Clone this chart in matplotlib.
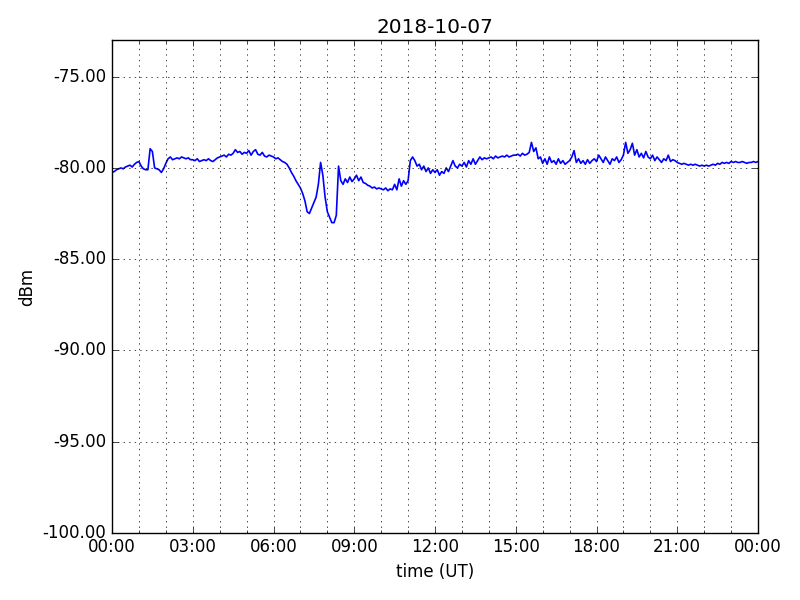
import datetime as dt
import matplotlib
matplotlib.use('Agg')
import matplotlib.pyplot as plt
import matplotlib.dates as mdates
from matplotlib.ticker import FormatStrFormatter

plt.style.use('classic')

# signal level read every 5 minutes, one row per hour
day = dt.datetime(2018, 10, 7)
levels = [
    -80.25, -80.2, -80.1, -80.05, -80.0, -80.05, -79.95, -79.9, -79.85, -79.95, -79.8, -79.7,
    -79.65, -79.9, -80.05, -80.1, -80.1, -78.95, -79.1, -80.0, -80.05, -80.1, -80.25, -80.05,
    -79.75, -79.5, -79.4, -79.55, -79.5, -79.45, -79.5, -79.4, -79.45, -79.5, -79.45, -79.55,
    -79.55, -79.6, -79.5, -79.65, -79.6, -79.55, -79.6, -79.5, -79.6, -79.65, -79.55, -79.45,
    -79.4, -79.35, -79.3, -79.4, -79.25, -79.3, -79.2, -79.0, -79.15, -79.1, -79.25, -79.15,
    -79.2, -79.05, -79.3, -79.1, -79.0, -79.25, -79.3, -79.15, -79.35, -79.4, -79.3, -79.35,
    -79.4, -79.5, -79.45, -79.55, -79.65, -79.7, -79.8, -80.0, -80.25, -80.45, -80.7, -80.9,
    -81.1, -81.4, -81.8, -82.4, -82.5, -82.2, -81.9, -81.6, -80.9, -79.7, -80.4, -81.6,
    -82.4, -82.7, -83.0, -83.0, -82.6, -79.9, -80.7, -80.9, -80.6, -80.8, -80.5, -80.75,
    -80.6, -80.4, -80.7, -80.5, -80.8, -80.85, -80.95, -81.0, -81.1, -81.05, -81.15, -81.1,
    -81.15, -81.2, -81.1, -81.25, -81.15, -81.2, -80.9, -81.2, -80.6, -81.0, -80.7, -80.9,
    -80.7, -79.6, -79.4, -79.6, -79.9, -79.8, -80.1, -79.9, -80.2, -80.0, -80.3, -80.1,
    -80.25, -80.1, -80.4, -80.2, -80.3, -80.0, -80.2, -79.9, -79.6, -79.9, -80.0, -79.8,
    -79.9, -79.7, -79.95, -79.6, -79.8, -79.5, -79.8, -79.6, -79.4, -79.55, -79.45, -79.5,
    -79.45, -79.4, -79.5, -79.35, -79.45, -79.4, -79.35, -79.4, -79.3, -79.4, -79.35, -79.3,
    -79.3, -79.25, -79.35, -79.2, -79.3, -79.25, -79.15, -78.6, -79.1, -78.9, -79.5, -79.4,
    -79.75, -79.5, -79.8, -79.4, -79.7, -79.6, -79.8, -79.5, -79.75, -79.6, -79.8, -79.7,
    -79.6, -79.4, -79.05, -79.7, -79.5, -79.75, -79.6, -79.8, -79.55, -79.75, -79.6, -79.5,
    -79.65, -79.3, -79.5, -79.7, -79.4, -79.6, -79.8, -79.5, -79.6, -79.4, -79.7, -79.55,
    -79.3, -78.6, -79.2, -79.0, -78.65, -79.3, -79.0, -79.4, -79.2, -79.45, -79.1, -79.4,
    -79.5, -79.3, -79.6, -79.4, -79.55, -79.7, -79.5, -79.6, -79.3, -79.65, -79.55, -79.6,
    -79.7, -79.75, -79.8, -79.75, -79.8, -79.85, -79.8, -79.85, -79.8, -79.85, -79.9, -79.85,
    -79.9, -79.85, -79.9, -79.85, -79.8, -79.85, -79.75, -79.8, -79.7, -79.75, -79.7, -79.75,
    -79.65, -79.7, -79.65, -79.7, -79.7, -79.65, -79.7, -79.75, -79.7, -79.7, -79.65, -79.7,
    -79.65,
]
times = [day + dt.timedelta(minutes=5 * i) for i in range(len(levels))]

fig = plt.figure(figsize=(8, 6), dpi=100)
ax = fig.add_axes([0.14, 0.112, 0.8075, 0.821])
ax.plot(times, levels, color='b', linewidth=1.2)

ax.set_xlim(day, day + dt.timedelta(days=1))
ax.set_ylim(-100, -73)
ax.xaxis.set_major_locator(mdates.HourLocator(byhour=range(0, 24, 3)))
ax.xaxis.set_minor_locator(mdates.HourLocator())
ax.xaxis.set_major_formatter(mdates.DateFormatter('%H:%M'))
ax.yaxis.set_major_formatter(FormatStrFormatter('%.2f'))

ax.grid(True, which='major', axis='both', linestyle=':', color='k')
ax.grid(True, which='minor', axis='x', linestyle=':', color='k')

ax.set_title('2018-10-07')
ax.set_xlabel('time (UT)')
ax.set_ylabel('dBm')

fig.savefig('out.png')
